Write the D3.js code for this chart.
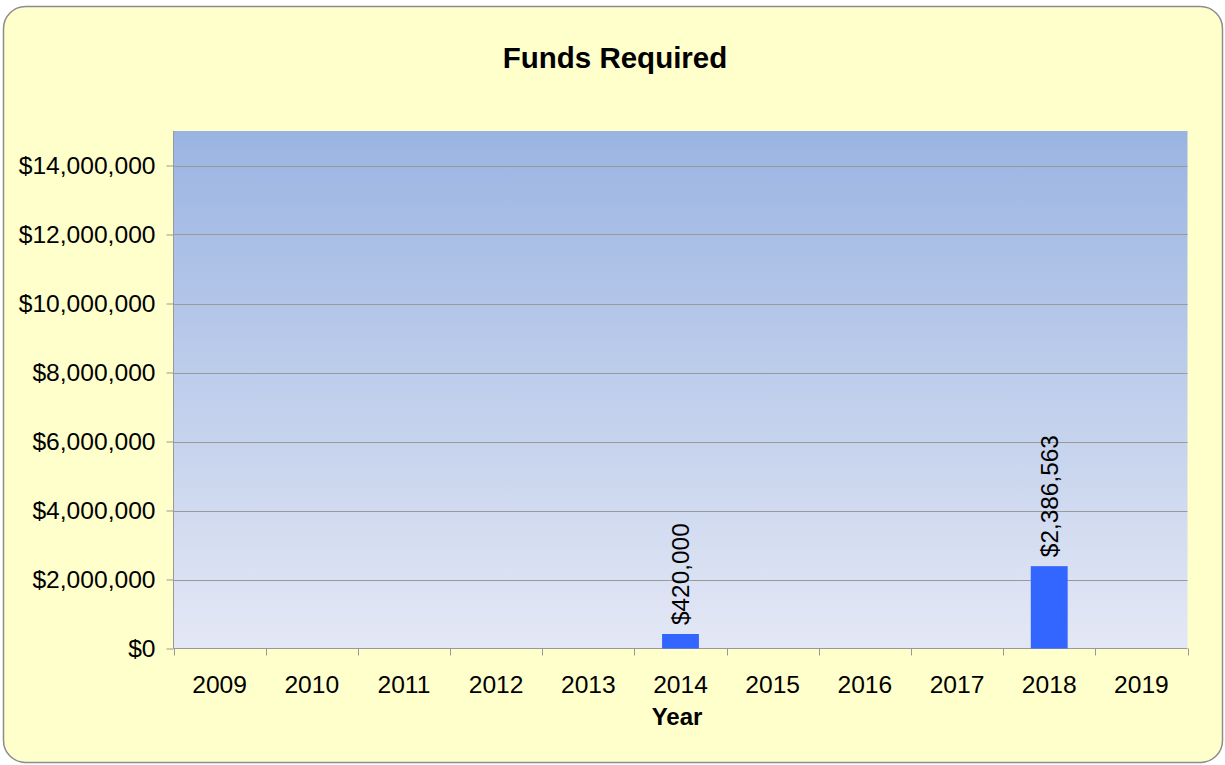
<!DOCTYPE html>
<html lang="en">
<head>
  <meta charset="UTF-8">
  <title>Funds Required</title>
  <style>
    body { margin: 0; background: #fff; font-family: Arial, "Liberation Sans", sans-serif; }
    .grid line { stroke: #999; stroke-width: 1px; }
    .tick-lbl { font-size: 24.6px; fill: #000; }
    .bar-lbl { font-size: 24.4px; fill: #000; }
  </style>
</head>
<body>
  <svg width="1225" height="765"></svg>
  <script src="https://d3js.org/d3.v7.min.js"></script>
  <script>
    const years = ["2009", "2010", "2011", "2012", "2013", "2014", "2015", "2016", "2017", "2018", "2019"];
    const funds = [0, 0, 0, 0, 0, 420000, 0, 0, 0, 2386563, 0];
    const yTicks = [0, 2000000, 4000000, 6000000, 8000000, 10000000, 12000000, 14000000];

    const svg = d3.select("svg");
    const plot = { left: 173.5, right: 1187.5, top: 131, bottom: 648.5 };

    // chart background
    svg.append("rect")
      .attr("x", 3.5).attr("y", 6.5)
      .attr("width", 1219).attr("height", 756)
      .attr("rx", 22).attr("ry", 22)
      .attr("fill", "#ffffcc")
      .attr("stroke", "#8c8c8c").attr("stroke-width", 1.5);

    svg.append("text")
      .attr("x", 615).attr("y", 68)
      .attr("text-anchor", "middle")
      .style("font-size", "29.5px").style("font-weight", "bold")
      .text("Funds Required");

    const grad = svg.append("defs").append("linearGradient")
      .attr("id", "bg").attr("x1", 0).attr("y1", 0).attr("x2", 0).attr("y2", 1);
    grad.append("stop").attr("offset", "0%").attr("stop-color", "#9ab4e2");
    grad.append("stop").attr("offset", "100%").attr("stop-color", "#e4e8f5");

    svg.append("rect")
      .attr("x", plot.left).attr("y", plot.top)
      .attr("width", plot.right - plot.left).attr("height", plot.bottom - plot.top)
      .attr("fill", "url(#bg)");

    const x = d3.scaleBand().domain(years)
      .range([plot.left, plot.right])
      .paddingInner(0.6).paddingOuter(0.3);
    const y = d3.scaleLinear().domain([0, 15000000]).range([plot.bottom, plot.top]);

    // gridlines
    svg.append("g").attr("class", "grid")
      .selectAll("line").data(yTicks.slice(1)).join("line")
      .attr("x1", plot.left).attr("x2", plot.right)
      .attr("y1", d => Math.round(y(d)) + 0.5).attr("y2", d => Math.round(y(d)) + 0.5);

    // y axis
    const fmt = d => "$" + d3.format(",")(d);
    const yAxis = svg.append("g")
      .attr("transform", `translate(${plot.left},0)`)
      .call(d3.axisLeft(y).tickValues(yTicks).tickFormat(fmt).tickSize(7).tickPadding(11));
    yAxis.select(".domain").attr("stroke", "#999").attr("d", `M0,${plot.top}V${plot.bottom}`);
    yAxis.selectAll(".tick line").attr("stroke", "#999");
    yAxis.selectAll(".tick text").attr("class", "tick-lbl").attr("font-family", null).attr("font-size", null);

    // x axis: labels centred in each year, ticks on the boundaries
    const step = x.step();
    const xAxis = svg.append("g").attr("transform", `translate(0,${plot.bottom})`);
    xAxis.append("line")
      .attr("x1", plot.left).attr("x2", plot.right)
      .attr("stroke", "#999");
    xAxis.selectAll("line.tk").data(d3.range(years.length + 1)).join("line")
      .attr("class", "tk")
      .attr("x1", i => Math.round(plot.left + i * step) + 0.5)
      .attr("x2", i => Math.round(plot.left + i * step) + 0.5)
      .attr("y1", 0).attr("y2", 7)
      .attr("stroke", "#999");
    xAxis.selectAll("text").data(years).join("text")
      .attr("class", "tick-lbl")
      .attr("x", d => x(d) + x.bandwidth() / 2)
      .attr("y", 44.5)
      .attr("text-anchor", "middle")
      .text(d => d);

    svg.append("text")
      .attr("x", 677).attr("y", 725)
      .attr("text-anchor", "middle")
      .style("font-size", "24px").style("font-weight", "bold")
      .text("Year");

    // bars
    const data = years.map((yr, i) => ({ yr, v: funds[i] })).filter(d => d.v > 0);
    svg.selectAll("rect.bar").data(data).join("rect")
      .attr("class", "bar")
      .attr("x", d => x(d.yr)).attr("width", x.bandwidth())
      .attr("y", d => y(d.v)).attr("height", d => y(0) - y(d.v))
      .attr("fill", "#3366ff");

    svg.selectAll("text.bar-lbl").data(data).join("text")
      .attr("class", "bar-lbl")
      .attr("transform", d => `translate(${x(d.yr) + x.bandwidth() / 2},${y(d.v) - 9}) rotate(-90)`)
      .attr("dy", "0.35em")
      .text(d => fmt(d.v));
  </script>
</body>
</html>
